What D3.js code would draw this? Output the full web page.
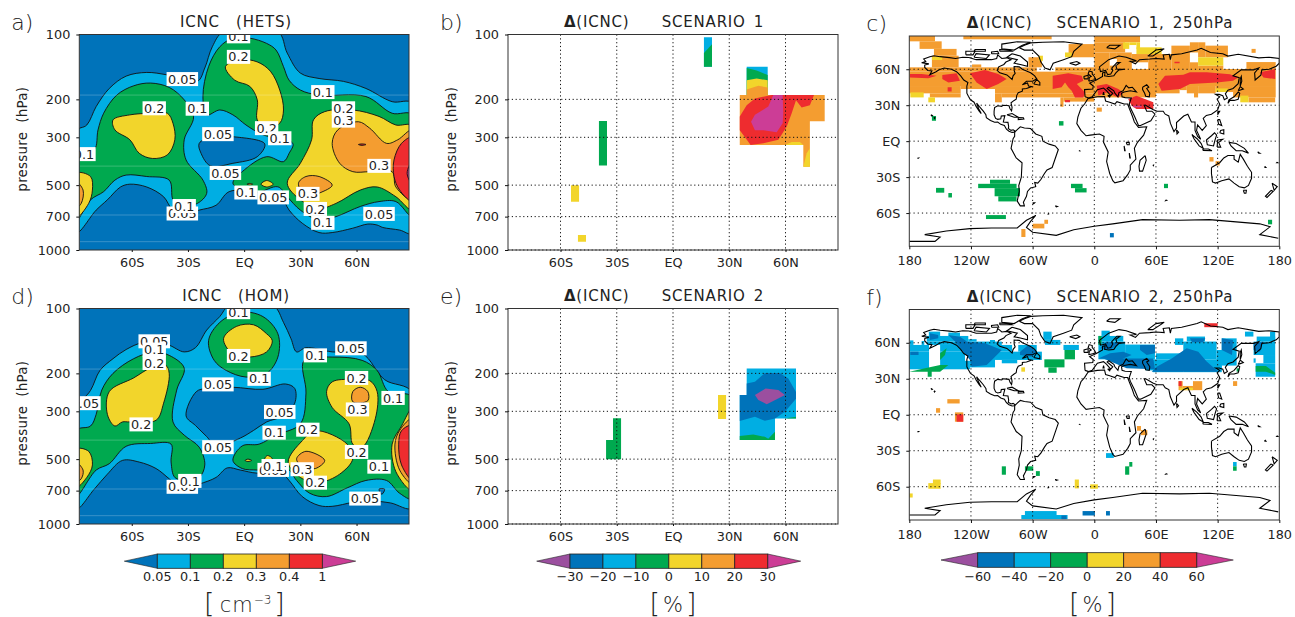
<!DOCTYPE html>
<html><head><meta charset="utf-8">
<script src="https://cdn.jsdelivr.net/npm/d3@7"></script>
<style>html,body{margin:0;padding:0;background:#fff}svg{display:block}
text{font-family:"DejaVu Sans","Liberation Sans",Arial,sans-serif;fill:#222;white-space:pre}</style></head><body>
<div id="c"></div>
<script>
// ---------- shared values ----------
const palette = {purple:"#9B4F9F",dark:"#0073BA",light:"#00AEE3",green:"#00A94F",yellow:"#F2D52B",orange:"#F49D30",red:"#EE2C2F",magenta:"#CC3D96"};
const pressureTicks=[100,200,300,500,700,1000];
const latTicks=[-60,-30,0,30,60];
const latLabels=["60S","30S","EQ","30N","60N"];
const mapLatTicks=[60,30,0,-30,-60];
const mapLatLabels=["60N","30N","EQ","30S","60S"];
const lonTicks=[-180,-120,-60,0,60,120,180];
const lonLabels=["180","120W","60W","0","60E","120E","180"];
const faintPressures=[191,408,688,915];

// ---------- panel a: [colour, [lat,p]...] painted in order ----------
const hetsContours=[
["light",[[-90,282],[-84,263],[-79,216],[-72,178],[-63,156],[-52,150],[-41,154],[-25,165],[-21,143],[-17,114],[-11,97],[18,97],[23,122],[30,151],[40,160],[53,165],[65,178],[79,205],[90,209],[90,837],[83,808],[74,786],[71,766],[66,758],[58,792],[47,830],[40,830],[31,751],[24,653],[19,555],[7,535],[-8,536],[-15,620],[-24,653],[-31,676],[-38,653],[-43,566],[-52,510],[-61,495],[-66,510],[-73,585],[-79,653],[-90,837]]],
["green",[[-90,369],[-80,343],[-78,277],[-75,232],[-68,191],[-59,173],[-50,168],[-40,176],[-32,201],[-27,241],[-32,308],[-31,382],[-22,474],[-20,546],[-25,608],[-34,628],[-38,585],[-40,474],[-52,456],[-63,449],[-69,474],[-75,536],[-82,585],[-90,739]]],
["green",[[-20,236],[-22,194],[-19,141],[-13,114],[-6,104],[3,104],[12,110],[17,118],[21,141],[24,163],[30,181],[40,191],[65,194],[79,232],[90,236],[90,700],[81,596],[72,596],[62,628],[49,700],[40,726],[30,653],[23,566],[18,509],[7,541],[-1,527],[-6,490],[-1,433],[12,369],[21,389],[24,356],[26,320],[10,292],[1,263],[-6,236],[-13,224]]],
["dark",[[-24,320],[-17,298],[-6,298],[11,322],[7,369],[-6,396],[-18,407],[-23,356]]],
["yellow",[[-70,249],[-61,236],[-50,232],[-41,232],[-38,258],[-37,308],[-41,362],[-49,376],[-56,356],[-61,308],[-69,277]]],
["yellow",[[-10,141],[-2,131],[7,134],[14,148],[19,181],[21,224],[19,258],[12,272],[7,249],[7,201],[3,174],[-5,163]]],
["yellow",[[23,490],[30,396],[36,308],[37,249],[43,228],[58,224],[72,240],[81,263],[90,266],[90,653],[81,566],[71,510],[62,527],[49,608],[40,641],[30,585]]],
["orange",[[47,320],[50,277],[61,254],[67,272],[76,320],[82,308],[90,277],[90,585],[81,510],[79,433],[67,433],[58,433],[51,396]]],
["orange",[[29,490],[33,456],[40,456],[47,500],[40,545],[33,566]]],
["red",[[90,300],[84,320],[80,382],[80,456],[83,527],[90,596]]],
["magenta",[[90,382],[87,441],[90,500]]],
["yellow",[[-90,441],[-82,456],[-81,527],[-83,608],[-90,712]]],
["orange",[[-90,480],[-86,527],[-87,608],[-90,640]]],
["yellow",[[9,495],[12,476],[15.5,495],[12,510]]],
["red",[[61,324],[63,322],[65,324],[63,327]]],
["yellow",[[1.5,495],[3,491],[4.5,495],[3,499]]]
];
const hetsLabels=[[-3,102,"0.1"],[-3,127,"0.2"],[-33,161,"0.05"],[42,185,"0.1"],[-48,220,"0.2"],[-25,221,"0.1"],[53,220,"0.2"],[53,251,"0.3"],[12,272,"0.2"],[-14,290,"0.05"],[19,303,"0.1"],[-85.5,359,"0.1"],[72,407,"0.3"],[-10,439,"0.05"],[1,541,"0.1"],[15.5,570,"0.05"],[34,549,"0.3"],[38,645,"0.2"],[-33,677,"0.05"],[-32,625,"0.1"],[42,748,"0.1"],[72,680,"0.05"]];

// ---------- panel d ----------
const homContours=[
["light",[[-90,296],[-82,240],[-77,194],[-70,171],[-63,155],[-54,144],[-41,147],[-32,159],[-26,152],[-20,126],[-13,109],[-8,97],[15.5,97],[21,116],[25,138],[28,159],[33,152],[47,159],[63,162],[75,214],[90,246],[90,841],[78,798],[65,779],[58,793],[47,828],[40,821],[31,746],[24,628],[19,572],[7,581],[-2,562],[-9,549],[-15,608],[-24,653],[-33,689],[-40,617],[-47,553],[-56,516],[-65,507],[-73,587],[-80,689],[-90,857]]],
["dark",[[72,689],[75,689],[73.5,728]]],
["dark",[[-31,315],[-25.5,243],[-20,235],[-6,232],[10,237],[22,224],[27,235],[27,275],[21,315],[12,336],[5,368],[-2,399],[-15,434],[-20,393],[-26,349]]],
["green",[[-90,369],[-82,351],[-79,310],[-76,239],[-70,200],[-59,171],[-48,159],[-40,165],[-32,189],[-36,239],[-38,336],[-32,387],[-24,440],[-21,532],[-24,608],[-31,628],[-37,608],[-39,516],[-39,426],[-50,423],[-63,436],[-72,525],[-79,562],[-90,746]]],
["green",[[-19,141],[-13,116],[-2,104],[10,109],[18,131],[18,168],[12,200],[1,208],[-9.5,194],[-16,174]]],
["green",[[32,174],[47,168],[63,174],[71,194],[77,243],[90,258],[90,763],[83,720],[76,628],[65,628],[55,680],[44,746],[35,720],[28,628],[23,553],[18,572],[7,562],[-1,553],[-6,507],[-1,434],[8,426],[17,387],[30,343],[33,247]]],
["yellow",[[-90,450],[-83,460],[-81,532],[-84,608],[-90,680]]],
["orange",[[-90,516],[-86,562],[-87,617],[-90,641]]],
["yellow",[[-73,310],[-72,243],[-59,210],[-50,189],[-42,183],[-40,200],[-43,275],[-47,330],[-61,336],[-65,336],[-69,351]]],
["yellow",[[-11,138],[-4,121],[5,119],[12,131],[15,141],[12,159],[3,168],[-6,163]]],
["yellow",[[44,243],[47,219],[58,213],[67,216],[71,243],[70,325],[63,440],[58,426],[56,343],[47,288]]],
["yellow",[[23.5,516],[31,411],[38,369],[55,426],[58,498],[51,587],[40,641],[30,608]]],
["orange",[[28,498],[33,460],[43,507],[38,553],[31,543]]],
["orange",[[58,243],[62,232],[66,243],[66,268],[58,271]]],
["yellow",[[90,288],[84,351],[79,426],[81,572],[90,701]]],
["orange",[[90,323],[83,368],[80.5,426],[83,562],[90,652]]],
["red",[[90,349],[84,369],[82.5,426],[84,532],[90,628]]],
["yellow",[[0.5,507],[2,500],[4,507],[2,513]]],
["yellow",[[11,498],[12.5,481],[15,498],[12.5,516]]]
];
const homLabels=[[-3,104,"0.1"],[-48,142,"0.05"],[-48,155,"0.1"],[-48,179,"0.2"],[-3,166,"0.2"],[38,165,"0.1"],[57,153,"0.05"],[60,210,"0.2"],[8,212,"0.1"],[-14,225,"0.05"],[79.5,260,"0.1"],[-85,275,"0.05"],[60.5,294,"0.3"],[19,302,"0.05"],[-55,345,"0.2"],[34,365,"0.2"],[16,377,"0.1"],[-14,440,"0.05"],[60,463,"0.2"],[72,542,"0.1"],[15.5,561,"0.05"],[15.5,538,"0.1"],[31,557,"0.3"],[-33,672,"0.05"],[-29,631,"0.1"],[38,643,"0.2"],[64.5,762,"0.05"]];

// ---------- panel b ----------
const scenario1Section=[
["green",[[-39.5,252],[-35.2,252],[-35.2,405],[-39.5,405]]],
["yellow",[[-54.4,500],[-50.1,500],[-50.1,597],[-54.4,597]]],
["yellow",[[-50.7,851],[-46.4,851],[-46.4,915],[-50.7,915]]],
["light",[[16.5,103],[20.8,103],[20.8,141],[16.5,141]]],
["green",[[16.5,122],[20.8,111],[20.8,141],[16.5,141]]],
["light",[[39.3,141],[50.5,141],[50.5,191],[39.3,191]]],
["green",[[39.3,143],[44.6,147],[50.5,154],[50.5,191],[39.3,191]]],
["yellow",[[39.3,163],[44.6,160],[50.5,163],[50.5,191],[39.3,191]]],
["orange",[[39.3,180],[45.5,173],[50.5,176],[50.5,191],[39.3,191]]],
["orange",[[35.6,191],[80.9,191],[80.9,253],[73,253],[73,411],[69.5,411],[69.5,326],[35.6,326]]],
["red",[[35.6,240],[39.3,213],[43.7,198],[52.6,191],[75.2,191],[73,213],[68.6,218],[65.6,202],[63.3,232],[60.6,268],[56.2,308],[48.2,320],[41.4,326],[38.4,300],[35.6,278]]],
["magenta",[[41.6,254],[43.7,236],[50.8,216],[53.5,191],[58.5,191],[58.8,232],[58.5,258],[55.3,284],[48.2,278],[43.7,278]]],
["yellow",[[59.7,326],[63.3,315],[67.7,315],[69.5,326]]],
["yellow",[[69.5,411],[71.3,356],[73,337],[73,411]]]
];
// ---------- panel e ----------
const scenario2Section=[
["green",[[-32,323],[-27.7,323],[-27.7,500],[-35.7,500],[-35.7,408],[-32,408]]],
["yellow",[[24,252],[28.3,252],[28.3,326],[24,326]]],
["light",[[39.3,190],[65.6,190],[65.6,324],[54.4,324],[54.4,408],[35.6,408],[35.6,252],[39.3,252]]],
["green",[[35.6,391],[42.8,384],[49,394],[50.8,402],[54.4,373],[54.4,408],[35.6,408]]],
["green",[[59.7,324],[65.6,318],[65.6,324]]],
["dark",[[35.6,252],[39.3,252],[39.3,223],[43.7,219],[49,199],[57,199],[61.5,211],[65.6,244],[65.6,262],[59.7,301],[54.4,324],[49,332],[43.7,318],[38.4,327],[35.6,333]]],
["purple",[[43.7,252],[49.4,235],[56.2,239],[59.7,252],[55.3,264],[50,278],[45.5,266]]]
];

// ---------- coastlines, [lon,lat] ----------
const coastAmericaN=[[-168,65.5],[-164,66.5],[-166,68.5],[-160,70.5],[-156,71.3],[-150,70.5],[-141,69.7],[-135,69],[-128,70],[-122,69.8],[-115,68],[-108,68],[-100,68],[-95,69],[-94,72],[-90,69],[-85,69.5],[-81,68],[-86,66],[-88,64],[-93,62],[-94.5,59],[-92,57],[-85,55.3],[-82,53],[-80,51.5],[-79,54.5],[-77,56.5],[-78,59],[-78,62.3],[-73,62],[-70,60],[-66,58.5],[-62,57],[-58,54.5],[-56,52],[-60,50],[-66,50],[-70,47],[-65,48.5],[-64,46],[-61,45.5],[-66,44],[-70,43.5],[-70,41.7],[-74,40.5],[-75.5,38],[-76,35],[-78,34],[-81,32],[-80,28],[-80.5,25.2],[-82,27],[-83,29.5],[-85,29.7],[-89,30],[-90,29],[-94,29.5],[-97,28],[-97.5,25],[-97.5,22],[-96,19],[-94,18.2],[-91,18.7],[-90.5,21],[-87,21.3],[-88,18],[-88.5,16],[-84,15.7],[-83.3,12],[-83.7,10.5],[-81,9],[-79,9.5],[-77.2,8.5],[-78,7.5],[-80,7.3],[-83,8.3],[-85.5,10],[-87.5,13],[-91,14],[-94,16],[-97,15.8],[-101,17.3],[-105,19.5],[-105.5,22],[-108,25],[-112,29],[-114.5,31.7],[-112.5,27],[-110,23],[-112,25],[-115,29],[-117,32.5],[-120.5,34.5],[-122.5,37.5],[-124,40],[-124,46],[-123,49],[-127,51],[-130,54.5],[-134,58],[-139,60],[-146,61],[-151,59.5],[-154,58],[-160,55.5],[-158,58.5],[-162,59],[-165,61.5],[-165,63.5],[-161,64.5],[-168,65.5]];
const coastGreenland=[[-73,78],[-68,76],[-60,76],[-54,71],[-52,66],[-48,61],[-43,59.5],[-40,65],[-30,68],[-22,70.5],[-20,75],[-12,81],[-30,83],[-50,82.5],[-62,82],[-68,80],[-73,78]];
const coastAmericaS=[[-77,8],[-72,12],[-68,11],[-62,10.5],[-57,6],[-51,4],[-50,0],[-44,-2.5],[-38,-4],[-35,-7],[-37,-12],[-39,-17],[-41,-22],[-46,-24],[-48.5,-27],[-52,-32],[-55,-35],[-58,-34.5],[-57,-38],[-62,-39],[-65,-42],[-66,-46],[-69,-51],[-68,-54],[-72,-54],[-75,-50],[-73,-42],[-73.5,-37],[-71,-30],[-70.3,-18],[-76,-14],[-81,-6],[-80,-2],[-79,2],[-77.5,4],[-77.5,7],[-77,8]];
const coastAfrica=[[-6,35.7],[3,37],[10,37.3],[11,33.5],[15,32.5],[20,31],[22,33],[29,31],[32.5,31],[34,27.5],[37,21],[39,16],[43,11.5],[51,12],[48,5],[42,-1],[39,-6],[40.5,-15],[35,-20],[35,-24],[32.5,-28],[28,-33],[20,-34.8],[18,-33],[15,-27],[12,-17],[13.5,-9],[9,-1],[9.5,4],[5,6],[-4,5],[-8,4.5],[-13,9],[-17,14.7],[-16,20],[-13,27.5],[-9.5,31],[-6,35.7]];
const coastEurasia=[[-9,37],[-9.5,43],[-1.5,43.5],[-1,46],[-4.5,48.5],[2,51],[8,54],[8,57],[10.5,57.5],[10,54.5],[14,54],[19,54.5],[21,57],[24,59.5],[30,60],[22,60],[21,63],[25,65.5],[22,65.5],[17,61],[18,59],[16,56],[13,55.5],[11,59],[6,58],[5,62],[14,68],[24,71],[31,70],[41,67],[35,66.5],[40,64.5],[44,68],[54,68.5],[60,69],[68,68.5],[67,72],[73,72.5],[74,68],[75,72],[85,73],[100,76],[104,77.5],[113,74],[125,73],[130,71],[140,72.5],[160,69.5],[170,70],[180,69],[180,65],[177,62.5],[170,60],[163,59.5],[162,55],[156.5,51],[156,57],[160,61],[155,59.5],[143,59.5],[135,54.5],[141,53],[140,48],[135,44],[130,42.5],[127.5,39.5],[129.5,36],[126.5,34.5],[125,38],[121.5,39],[118,39],[122,37],[119.5,35],[122,31],[120,26],[114,22.5],[109,21.5],[106,19],[109,13],[105,9],[100.5,13.5],[99.5,9],[103.5,1.5],[100.5,4],[98,9],[98,16],[94.5,16],[91,22.5],[87,21],[80,15.5],[80,11],[77.5,8],[74,15],[72.5,21],[69,22.5],[67,25],[61,25],[57,26.5],[50,30],[48.5,30],[51,25],[56,25],[59,22.5],[55,17],[45,13],[43,13],[39,21],[35,28],[34,31],[36,36],[30,36.3],[27,37],[26.5,40],[29,41],[35,42],[41,41],[37,45],[33.5,44.5],[31,46.5],[28,42],[24,40.5],[23,37],[20,40],[19,42],[14,45],[12.5,44],[18,40],[16,38],[12,42],[9,44.3],[3,43],[0,39.5],[-2,37],[-5.5,36],[-9,37]];
const coastAustralia=[[114,-22],[122,-18],[126,-14],[130,-12],[136,-12],[136,-15],[140,-17.5],[142,-11],[145,-15],[149,-21],[153,-26],[153,-31],[150,-37],[146,-39],[141,-38],[136,-35],[131,-31.5],[124,-33],[118,-35],[115,-34],[114,-27],[114,-22]];
const coastAntarctica=[[-180,-83.6],[-155,-83.6],[-150,-80],[-165,-78],[-144,-75],[-121,-73],[-100,-72.5],[-75,-72.5],[-66,-66],[-57,-62],[-62,-67],[-66,-72],[-60,-76],[-37,-78.6],[-20,-74],[0,-71],[18,-69],[47,-65.5],[83,-66],[112,-65.5],[161,-69],[171,-71.5],[161,-78],[179,-81]];
const coastIslands=[
[[-80,73],[-72,71],[-65,66],[-65,62.5],[-72,64],[-78,65],[-75,68],[-85,70],[-80,73]],
[[-117,70],[-105,69],[-102,72],[-115,73],[-117,70]],
[[-90,77],[-78,76],[-70,80],[-62,82.5],[-75,83],[-90,81],[-90,77]],
[[-125,72],[-118,72],[-116,75],[-125,75],[-125,72]],
[[-92,75],[-80,75],[-82,76],[-92,76.5],[-92,75]],
[[-117,75],[-106,75],[-106,76.5],[-116,76.5],[-117,75]],
[[-100,73],[-93,73],[-94,75],[-100,74.5],[-100,73]],
[[-59,47.7],[-53,46.7],[-53,49],[-56,51.5],[-59,47.7]],
[[-24,65],[-18,63.5],[-14,65],[-17,66.5],[-24,65]],
[[-85,22],[-80,23],[-74,20],[-78,20],[-85,22]],
[[-74,19.7],[-69,19.5],[-68.5,18.4],[-74,18],[-74,19.7]],
[[-5.5,50],[1.5,51.5],[0,54],[-2,56],[-2,57.7],[-5,58.5],[-6,56],[-3,54],[-5,53],[-5,51.5],[-5.5,50]],
[[-10,52],[-6,52],[-6,55],[-10,54],[-10,52]],
[[130,31.5],[132,34],[136,34],[140,35],[141.5,40],[140,41],[136,37],[131,34.5],[130,31.5]],
[[140,42],[145,43.5],[142,45.5],[140,42]],
[[142,46],[143.5,50],[143,54],[142,52],[142,46]],
[[120,22],[122,25],[120.5,25],[120,22]],
[[120,18],[122,18],[124,13],[121,14],[120,18]],
[[122,7],[126,6],[126,9.5],[123,9],[122,7]],
[[109,1],[114,4.5],[117,7],[119,5],[117.5,1],[116,-4],[110,-3],[109,1]],
[[95,5.5],[100,2],[104,-2],[106,-6],[102,-4],[97,2],[95,5.5]],
[[105.5,-6.5],[111,-6.5],[114.5,-8],[106,-7.7],[105.5,-6.5]],
[[119.5,-5],[120,1],[125,1.5],[121,-1],[123,-5],[119.5,-5]],
[[131,-1],[138,-2],[146,-6],[150,-10],[144,-8],[138,-8],[133,-4],[131,-1]],
[[145,-41],[148,-41],[147.5,-43.5],[146,-43.5],[145,-41]],
[[173,-35],[178,-38],[175,-41],[173,-35]],
[[172,-41],[174,-42],[168,-47],[166.5,-46],[172,-41]],
[[52,71],[57,71],[68,77],[60,76],[52,71]],
[[12,78],[20,77],[25,80],[15,80],[12,78]],
[[49.5,-12],[50.5,-16],[47,-25],[44,-25],[43.5,-21],[44.5,-16],[49.5,-12]],
[[47,45],[51,47],[53,45],[51,44],[54,40],[53.5,37],[50,37.5],[49,40],[47,43],[47,45]],
[[80,9.5],[82,7.5],[80.5,6],[80,9.5]],
[[9,41],[9.5,39],[8.5,39],[9,41]],
[[13,38],[15.5,38],[15,36.7],[13,38]],
[[-156,20],[-155,19.5],[-155.5,19],[-156,20]],
[[-159,22],[-157.5,21.3],[-158,21],[-159,22]],
[[-60,-51.5],[-58,-51.5],[-59,-52.3],[-60,-51.5]],
[[-172,-14],[-171,-14],[-171.5,-14.3],[-172,-14]],
[[31,-1],[34,-1],[34,-3],[32,-3],[31,-1]],
[[29,-4],[30,-8],[29.5,-8],[29,-4]],
[[34,-10],[35,-14],[34.5,-14],[34,-10]],
[[57,-20],[57.7,-20],[57.5,-20.5],[57,-20]],
[[159,-9],[161,-10],[160,-10],[159,-9]],
[[166,-21],[167,-22],[166,-22],[166,-21]],
[[178,-17.5],[178.6,-18],[177.5,-18],[178,-17.5]],
[[70,-49],[70.5,-49.3],[69.5,-49.5],[70,-49]],
[[-38,-54],[-36,-54.5],[-37,-54.8],[-38,-54]],
[[-45,-60.5],[-44,-60.7],[-45,-60.9],[-45,-60.5]],
[[-14,-7.8],[-14.3,-8],[-14,-8.1],[-14,-7.8]]
];
const coastlines=[coastAmericaN,coastGreenland,coastAmericaS,coastAfrica,coastEurasia,coastAustralia,coastAntarctica,...coastIslands];

// ---------- panel c: grid runs [lon0,lon1,lat0,lat1] ----------
const s1Orange=[
[-180,-155,83.3,88],[-170,-148.5,77,83.3],[-156,-134,71.3,77],[-158,-132,61.6,71.3],[-127.4,-41.5,85,88],[-64,-51,61.6,70],[-119,-110,61.6,64],[-25,0,70,81],
[-180,-56,58,61.6],[-38,0,58,61.6],[-180,0,46,58],
[-180,-130,39.9,46],[-130,-96.6,43.5,46],[-96.6,0,39.9,46],[-160,-130,36.5,39.9],[-96.6,-90,32.4,39.9],[-90,0,36.5,39.9],[-33,-30,28.7,36.5],[-30,0,33,36.5],
[0,44.5,82.5,88],[0,30,74,82.5],[0,15,60.2,74],[15,22,68.5,74],[15,22,60.2,63],[22,36.5,60.2,74],[36.5,52.5,65.8,72.7],[52.5,75,60.2,72.7],[75,93,60.2,79.7],[93,101,60.2,65.8],[93,101,74,82.5],[101,108,70,82.5],[108,130,70,79.7],[101,125.5,60.2,63],[148,176.5,60.2,66],[153,157,73.7,77],
[0,176.5,46,60.2],[0,60,36.5,46],[60,83,39.9,46],[83,90,42.6,46],[90,97,39.9,46],[97,101,36.5,46],[101,118,39.9,46],[118,135,41,46],[135,176.5,36.5,46],[150,176,32.4,36.5],
[2.3,7.3,24.6,28],[112,116,-17,-13.3],[118,122,-20.3,-16.7],[-71,-67,-80,-73.3],[-60,-48.6,-72.8,-68.9],[-48.6,-45,-69,-65.6]];
const s1Yellow=[[-179,-166,36.5,40.7],[-161.5,-155,32.4,36.5],[-158,-148,67.7,70.5],[-54,-50,67,71.3],[-28.5,-22,70,74],
[28,34,77,82.5],[34,41,80.2,82.5],[41,44.5,77,82.5],[41,65.5,72.7,78.3],[101,125.5,63,70],[142,150,32.4,38],[118,130,41,44]];
const s1Green=[[-158,-154,17,21],[-34.4,-30,13,16.7],[-154,-146,-43,-39],[-142,-138.5,-47,-43.3],[-113,-75.6,-39.2,-35.6],[-101.5,-82,-35.6,-32.2],[-97,-72.3,-46,-39.2],[-93.4,-75.6,-50.3,-46],[-105.4,-86,-65,-61.7],[-22.7,-11.4,-39.2,-35.6],[-18.8,-7.5,-42.8,-39.2],[67.8,71.7,-39.2,-35.6],[169,173,-69.4,-65.6]];
const s1Dark=[[15.2,19,-80.3,-76.7]];
const s1Red=[
[[-179.3,56],[-168,56],[-153.4,54.6],[-161.5,52.4],[-179.3,53.2]],
[[-147.9,55.2],[-134,56.6],[-130.7,50.4],[-142,49],[-147.9,51.8]],
[[-121,56.6],[-106.4,59.3],[-93.4,56],[-85.3,51.8],[-93.4,47.7],[-104.7,43.5],[-114.5,49]],
[[-142.7,44.9],[-138.8,44.9],[-138.8,41.5],[-142.7,41.5]],
[[-40.5,54.6],[-25.3,56.6],[-12.3,54.6],[-10.7,50.4],[-17,47.7],[-9,40.7],[-10.7,36.5],[-18.8,36.5],[-22,42.1],[-25.3,44.9],[-28.5,49],[-31.8,44.9],[-40.5,43.5]],
[[-28.5,34.3],[-23.6,34.3],[-23.6,32.4],[-28.5,32.4]],
[[2.3,46.3],[12,47.7],[23.4,43.5],[28.2,40.7],[23.4,36.5],[12,40.7],[4,38]],
[[33,35.1],[41,37.9],[57.4,32.4],[57.4,26.8],[41,26.8],[36.3,29.6]],
[[62.3,47.7],[68.8,54.6],[86.6,55.4],[93,57.4],[109.3,57.4],[132,55.8],[140,53.2],[135,50.4],[119,49],[93,47.7],[83.4,43.5],[65.5,42.1]],
[[161.2,57.4],[176,60.2],[176,51.8],[164.5,53.2]],
[[78,66.3],[83,66.3],[83,65],[78,65]]];
const s1Magenta=[[[38,29.6],[46,29.6],[46,28.2],[38,28.2]]];

// ---------- panel f ----------
const s2Light=[
[-161,-150,65.7,69.3],[-142,-130.7,65.7,68.5],[-163,-122.6,61,65.7],[-122.6,-114.5,61,63],
[-179.3,-176,58.2,62],[-168,-165.4,58.2,61.5],[-163,-101.5,58.2,61],[-101.5,-96.6,58.2,62.3],[-96.6,-90,58.2,61],
[-180,-160.8,52.6,58.2],[-150,-80,52.6,58.2],[-74,-56,52.6,58.2],
[-180,-160.8,37.9,52.6],[-150,-125.8,37.9,52.6],[-125.8,-121,37.9,45],[-121,-96.6,39.5,52.6],[-96.6,-51,45.7,52.6],[-90,-75,42.9,45.7],
[-49.6,-41.5,62.4,69.3],[-48,-33,58.2,62.4],[-30,-15,54,58.2],
[7,15,65.7,70.1],[4,28.2,61,65.7],[4,30,46.2,61],[30,59,46.2,58.5],[28,57,41.5,46.2],[50,60,37,41.5],
[60,86.6,46.2,51.2],[78.5,86.6,58.2,63.7],[86.6,119,46.2,61],[90,107.7,61,65.2],[124,138.5,54,63.7],[119,138.5,41,54],[86.6,124,35.5,46.2],[57,86.6,35.5,46.2],[119,124,37,41],
[146.6,154.8,65.2,69.3],[171,176,62,69.3],[158,176,61,65.2],[155,176,49.8,61],[164.5,176,42.9,49.8],[155,157,43.4,47],[157,176,31.7,42.9],
[11.4,19,-36,-32],[135,138.5,-43,-39.4],[-71,-26,-87,-83.6],[-67.5,-36.7,-83.6,-80.3]];
const s2Green=[[4,7,58.2,65.7],[138.5,141,35.9,38.7],[-29,-18.8,46.2,54],[-48.6,-29,39.5,46.2],[-44.7,-36.6,35,39.5],
[30,34,-50,-43],[34,37,-43.3,-39.4],[135,138.5,-46.7,-43],[-90,-86,-50,-43],[-67.5,-59.4,-46.7,-43],[-56.8,-53,-51,-47]];
const s2GreenPolys=[
[[-150,45.7],[-150,51.2],[-143.7,55.4],[-145.3,49.8]],
[[-180,35.9],[-164.7,38.7],[-150,41.5],[-142,41.5],[-150,35.9],[-158.2,35.9],[-158.2,31.7],[-162.1,31.7],[-162.1,35.9]],
[[157,40.7],[167,40.7],[176,35],[176,33.2],[167,35.9],[157,35.9]]];
const s2Yellow=[[-71,-67.4,35.9,39.5],[-19,-15,-61.4,-54],[-4,3.5,-61.7,-58],[-161.5,-149.5,-61.7,-57],[-157,-149.5,-57.8,-54],[-180,-176.7,-69,-65.6]];
const s2Orange=[[-143,-131,9.4,13],[-154,-150,1.7,5.5],[-135.6,-127.5,-5.8,2],[82,86,20.5,28],[86,96,20.5,24],[96,105,20.5,28],[135,139,24,28],[41.5,45.4,-13.3,-9.4],[45.4,51.6,-17,-12.8]];
const s2Yellow2=[[83,96,20.5,22.5]];
const s2Red=[[-134,-127.5,-5.8,0.3],[82,85,24,28],[107,120,73,76.3]];
const s2Dark=[[-32,-27,-87,-84],[-11.4,0.6,-84,-80.3],[11.4,15.2,-84,-80.3]];
const s2DarkPolys=[
[[-179,52.6],[-171,52.6],[-171,49.8],[-179,49.8]],
[[-142,66.5],[-130.7,65.1],[-124,61],[-106.4,59.6],[-90,54],[-98.2,47],[-104.7,41.5],[-119.3,40.1],[-121,45.7],[-127.4,52.6],[-135.5,61]],
[[-160,68],[-151.8,66.5],[-151.8,63.8],[-160,62.4]],
[[-72.3,52.6],[-64,58.2],[-56,52.6],[-61,48.4],[-72.3,49.8]],
[[5.5,55.4],[12,61],[25,59.6],[15.3,54]],
[[3.9,47],[15.3,51.2],[28.2,52.6],[36.3,49.8],[26.6,46.2]],
[[44.5,58.2],[59,58.2],[59,51.2],[51,49.8],[44.5,54]],
[[8.8,47],[57.4,47],[59,37.9],[31.5,38.7]],
[[55.8,35.9],[60.7,40],[75.3,47],[89.9,55.4],[101.2,52.6],[109.3,44.3],[120.7,35.9]],
[[93,63.7],[108,63.7],[106,60.4],[95,60.4]],
[[124,63.7],[135,62.4],[134,49.8],[124,54]],
[[155,59.6],[164.5,61],[161.2,52.6],[155,54]]];

// ---------- colour bars ----------
const barA={colors:["dark","light","green","yellow","orange","red","magenta"],labels:["0.05","0.1","0.2","0.3","0.4","1"]};
const barE={colors:["purple","dark","light","green","yellow","orange","red","magenta"],labels:["−30","−20","−10","0","10","20","30"]};
const barF={colors:["purple","dark","light","green","yellow","orange","red","magenta"],labels:["−60","−40","−20","0","20","40","60"]};

// ---------- drawing ----------
const W=1295,H=617;
const svg=d3.select("#c").append("svg").attr("width",W).attr("height",H).attr("viewBox",[0,0,W,H]);
const defs=svg.append("defs");
let clipId=0;
function clip(x,y,w,h){const id="cp"+(++clipId);defs.append("clipPath").attr("id",id).append("rect").attr("x",x).attr("y",y).attr("width",w).attr("height",h);return `url(#${id})`;}
const TICKFS=12.8;
function styleAxis(g){g.selectAll("text").attr("font-size",TICKFS).attr("font-family",'"DejaVu Sans"').attr("fill","#2a2a2a");g.selectAll("line").attr("stroke","#111");g.select(".domain").attr("stroke","none");}

function section(box,title,letter,contours,labels,opt){
  const [x0,x1,y0,y1]=box;
  const x=d3.scaleLinear().domain([-88,88]).range([x0,x1]);
  const y=d3.scaleLog().domain([100,1000]).range([y0,y1]);
  const g=svg.append("g");
  const cp=g.append("g").attr("clip-path",clip(x0,y0,x1-x0,y1-y0));
  if(opt.filled){cp.append("rect").attr("x",x0).attr("y",y0).attr("width",x1-x0).attr("height",y1-y0).attr("fill",palette.dark);}
  const line=d3.line().x(d=>x(d[0])).y(d=>y(d[1])).curve(opt.filled?d3.curveCatmullRomClosed.alpha(0.5):d3.curveLinearClosed);
  cp.selectAll("path.f").data(contours).join("path").attr("class","f").attr("d",d=>line(d[1])).attr("fill",d=>palette[d[0]]).attr("stroke",opt.filled?"#111":"none").attr("stroke-width",0.9);
  if(opt.filled){
    cp.selectAll("line.faint").data(faintPressures).join("line").attr("class","faint").attr("x1",x0).attr("x2",x1).attr("y1",d=>y(d)).attr("y2",d=>y(d)).attr("stroke","#fff").attr("stroke-opacity",0.22).attr("stroke-width",1);
    const lab=cp.selectAll("g.lab").data(labels).join("g").attr("class","lab").attr("transform",d=>`translate(${x(d[0])},${y(d[1])})`);
    lab.append("rect").attr("fill","#fff");
    lab.append("text").attr("text-anchor","middle").attr("dy","0.36em").attr("font-size",12.8).attr("fill","#2a2a2a").text(d=>d[2]);
    lab.each(function(){const t=d3.select(this).select("text").node().getComputedTextLength()+3;d3.select(this).select("rect").attr("x",-t/2).attr("y",-7).attr("width",t).attr("height",14);});
  } else {
    const gr=g.append("g").attr("stroke","#111").attr("stroke-dasharray","1.2 2.6").attr("stroke-width",1);
    gr.selectAll("line.h").data(pressureTicks).join("line").attr("class","h").attr("x1",x0).attr("x2",x1).attr("y1",d=>y(d)).attr("y2",d=>y(d));
    gr.selectAll("line.v").data(latTicks).join("line").attr("class","v").attr("y1",y0).attr("y2",y1).attr("x1",d=>x(d)).attr("x2",d=>x(d));
  }
  g.append("rect").attr("x",x0).attr("y",y0).attr("width",x1-x0).attr("height",y1-y0).attr("fill","none").attr("stroke","#333").attr("stroke-width",1);
  const ax=g.append("g").attr("transform",`translate(0,${y1})`).call(d3.axisBottom(x).tickValues(latTicks).tickFormat((d,i)=>latLabels[i]).tickSize(2).tickPadding(6));
  styleAxis(ax);
  const ay=g.append("g").attr("transform",`translate(${x0},0)`).call(d3.axisLeft(y).tickValues(pressureTicks).tickFormat(d=>d).tickSize(3).tickPadding(6));
  styleAxis(ay);
  g.append("text").attr("transform",`translate(${x0-57},${(y0+y1)/2-3}) rotate(-90)`).attr("text-anchor","middle").attr("dy","0.35em").attr("font-size",13.5).attr("fill","#2a2a2a").attr("letter-spacing",0.2).text("pressure  (hPa)");
  addTitle(g,title,opt.titleX,y0-13);
  addLetter(g,letter,x0-68,y0-5);
}
function addTitle(g,t,cx,yy){
  const e=g.append("text").attr("x",cx).attr("y",yy).attr("text-anchor","middle").attr("dy","0.35em").attr("font-size",15).attr("fill","#2a2a2a").attr("letter-spacing",0.8).attr("word-spacing",2.5);
  if(t[0]==="Δ"){e.append("tspan").attr("font-weight","bold").text("Δ");e.append("tspan").text(t.slice(1));} else e.text(t);
}
function addLetter(g,t,xx,yy){g.append("text").attr("x",xx).attr("y",yy).attr("font-size",22).attr("font-weight",200).attr("fill","#222").text(t);}

function mapPanel(box,title,letter,draw){
  const [x0,x1,y0,y1]=box;
  const x=d3.scaleLinear().domain([-180,180]).range([x0,x1]);
  const y=d3.scaleLinear().domain([87.75,-87.75]).range([y0,y1]);
  const g=svg.append("g");
  const cp=g.append("g").attr("clip-path",clip(x0,y0,x1-x0,y1-y0));
  const rects=(arr,c)=>cp.append("g").selectAll("rect").data(arr).join("rect").attr("x",d=>x(d[0])).attr("width",d=>x(d[1])-x(d[0])).attr("y",d=>y(d[3])).attr("height",d=>y(d[2])-y(d[3])).attr("fill",palette[c]);
  const polyLine=d3.line().x(d=>x(d[0])).y(d=>y(d[1])).curve(d3.curveLinearClosed);
  const polys=(arr,c)=>cp.append("g").selectAll("path").data(arr).join("path").attr("d",polyLine).attr("fill",palette[c]);
  draw(rects,polys);
  const coast=d3.line().x(d=>x(d[0])).y(d=>y(d[1]));
  cp.append("g").selectAll("path").data(coastlines).join("path").attr("d",coast).attr("fill","none").attr("stroke","#000").attr("stroke-width",1.1);
  const gr=g.append("g").attr("stroke","#111").attr("stroke-dasharray","1.2 3").attr("stroke-width",1);
  gr.selectAll("line.h").data(mapLatTicks).join("line").attr("class","h").attr("x1",x0).attr("x2",x1).attr("y1",d=>y(d)).attr("y2",d=>y(d));
  gr.selectAll("line.v").data(lonTicks.slice(1,-1)).join("line").attr("class","v").attr("y1",y0).attr("y2",y1).attr("x1",d=>x(d)).attr("x2",d=>x(d));
  g.append("rect").attr("x",x0).attr("y",y0).attr("width",x1-x0).attr("height",y1-y0).attr("fill","none").attr("stroke","#333").attr("stroke-width",1);
  const ax=g.append("g").attr("transform",`translate(0,${y1})`).call(d3.axisBottom(x).tickValues(lonTicks).tickFormat((d,i)=>lonLabels[i]).tickSize(3).tickPadding(7));
  styleAxis(ax);
  const ay=g.append("g").attr("transform",`translate(${x0},0)`).call(d3.axisLeft(y).tickValues(mapLatTicks).tickFormat((d,i)=>mapLatLabels[i]).tickSize(3).tickPadding(6));
  styleAxis(ay);
  addTitle(g,title,1100,y0-13);
  addLetter(g,letter,x0-43,y0-5);
}

function colorBar(spec,x0,x1,tipL,tipR,yt,yb,unit,unitX){
  const n=spec.labels.length;
  const px=d3.scaleLinear().domain([0,n-1]).range([x0,x1]);
  const g=svg.append("g");
  const mid=(yt+yb)/2;
  const cols=spec.colors;
  g.append("path").attr("d",d3.line()([[tipL,mid],[x0,yt],[x0,yb]])+"Z").attr("fill",palette[cols[0]]).attr("stroke","#222").attr("stroke-width",0.6);
  g.append("path").attr("d",d3.line()([[tipR,mid],[x1,yt],[x1,yb]])+"Z").attr("fill",palette[cols[cols.length-1]]).attr("stroke","#222").attr("stroke-width",0.6);
  g.selectAll("rect").data(cols.slice(1,-1)).join("rect").attr("x",(d,i)=>px(i)).attr("width",(d,i)=>px(i+1)-px(i)).attr("y",yt).attr("height",yb-yt).attr("fill",d=>palette[d]).attr("stroke","#222").attr("stroke-width",0.8);
  g.selectAll("text").data(spec.labels).join("text").attr("x",(d,i)=>px(i)).attr("y",576.5).attr("dy","0.36em").attr("text-anchor","middle").attr("font-size",12.8).attr("fill","#2a2a2a").text(d=>d);
  const t=g.append("text").attr("x",unitX).attr("y",602).attr("text-anchor","middle").attr("dy","0.36em").attr("font-size",27).attr("font-weight",200).attr("fill","#222");
  t.append("tspan").text("[");
  if(unit==="cm"){t.append("tspan").attr("dx",5).attr("font-size",21).attr("letter-spacing",1).text("cm");t.append("tspan").attr("font-size",12).attr("dy",-8).text("−3");t.append("tspan").attr("dy",8).attr("dx",3).text("]");}
  else {t.append("tspan").attr("dx",3).attr("font-size",21).text("%");t.append("tspan").attr("dx",3).text("]");}
}

section([79.3,409,34.5,250],"ICNC  (HETS)","a)",hetsContours,hetsLabels,{filled:true,titleX:236});
section([79.3,409,308.5,524],"ICNC  (HOM)","d)",homContours,homLabels,{filled:true,titleX:236});
section([508,838,34.5,250],"Δ(ICNC)    SCENARIO 1","b)",scenario1Section,[],{filled:false,titleX:664});
section([508,838,308.5,524],"Δ(ICNC)    SCENARIO 2","e)",scenario2Section,[],{filled:false,titleX:664});
mapPanel([909.3,1279.3,36,246.3],"Δ(ICNC)   SCENARIO 1, 250hPa","c)",(r,p)=>{
  r(s1Orange,"orange");r(s1Yellow,"yellow");r(s1Green,"green");r(s1Dark,"dark");p(s1Red,"red");p(s1Magenta,"magenta");
});
mapPanel([909.3,1279.3,309.5,520],"Δ(ICNC)   SCENARIO 2, 250hPa","f)",(r,p)=>{
  r(s2Light,"light");p(s2DarkPolys,"dark");r(s2Green,"green");p(s2GreenPolys,"green");r(s2Yellow,"yellow");r(s2Orange,"orange");r(s2Yellow2,"yellow");r(s2Red,"red");r(s2Dark,"dark");
});
colorBar(barA,157.3,322.3,124.3,355.7,554,568.3,"cm",244.5);
colorBar(barE,570,767.7,536.7,800.7,554,568.3,"%",673);
colorBar(barF,977.7,1196.7,941,1233.3,552.7,567.3,"%",1092.5);
</script></body></html>
